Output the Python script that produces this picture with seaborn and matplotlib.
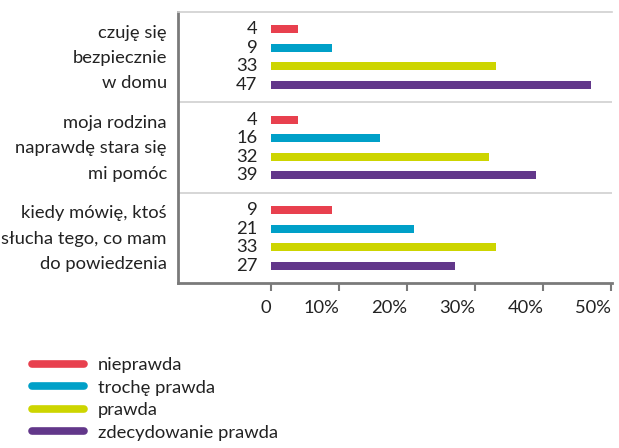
import matplotlib
matplotlib.use("Agg")
import matplotlib.pyplot as plt
from matplotlib.lines import Line2D
import seaborn as sns
import pandas as pd

# Survey statements (one group of bars each)
statements = [
    "czuję się\nbezpiecznie\nw domu",
    "moja rodzina\nnaprawdę stara się\nmi pomóc",
    "kiedy mówię, ktoś\nsłucha tego, co mam\ndo powiedzenia",
]
answers = ["nieprawda", "trochę prawda", "prawda", "zdecydowanie prawda"]

# Percent of respondents per answer, listed per statement
nieprawda = [4, 4, 9]
troche_prawda = [9, 16, 21]
prawda = [33, 32, 33]
zdecydowanie_prawda = [47, 39, 27]

xticks = [0, 10, 20, 30, 40, 50]
xtick_labels = ["0", "10%", "20%", "30%", "40%", "50%"]

palette = ["#E8404E", "#00A0C8", "#CDD500", "#62378A"]

rows = []
for ans, vals in zip(answers, [nieprawda, troche_prawda, prawda, zdecydowanie_prawda]):
    for st, v in zip(statements, vals):
        rows.append({"statement": st, "answer": ans, "value": v})
df = pd.DataFrame(rows)

sns.set_style("white")
plt.rcParams["font.family"] = ["Lato", "DejaVu Sans"]
text_color = "#222222"
axis_color = "#7a7a7a"
grid_color = "#d0d0d0"
fs = 13.2

fig = plt.figure(figsize=(6.19, 4.48), dpi=100)
ax = fig.add_axes([178 / 619, 1 - 283 / 448, (612 - 178) / 619, (283 - 12) / 448])

sns.barplot(
    data=df, y="statement", x="value", hue="answer",
    order=statements, hue_order=answers, palette=palette,
    orient="h", width=0.82, saturation=1, legend=False, ax=ax,
)

# Thin the bars around their centres and label each with its value
bar_h = 0.09
for container in ax.containers:
    for patch in container:
        cy = patch.get_y() + patch.get_height() / 2
        patch.set_height(bar_h)
        patch.set_y(cy - bar_h / 2)
        patch.set_edgecolor("none")
        ax.annotate(
            f"{patch.get_width():g}", xy=(0, cy), xytext=(-10, 0),
            textcoords="offset points", ha="right", va="center",
            fontsize=fs, color=text_color,
        )

ax.set_xlim(-13.7, 50.1)
ax.set_ylim(2.5, -0.5)
ax.set_xlabel("")
ax.set_ylabel("")

ax.set_xticks(xticks)
ax.set_xticklabels(xtick_labels, fontsize=fs, color=text_color, ha="right")
ax.tick_params(axis="x", bottom=True, length=6, width=1.5, color=axis_color,
               direction="out", pad=6)

# Statement labels to the left of the axis, centred on each group
ax.set_yticklabels([])
ax.tick_params(axis="y", left=False, length=0)
for i, st in enumerate(statements):
    ax.annotate(
        st, xy=(0, i), xycoords=("axes fraction", "data"),
        xytext=(-8, -0.5), textcoords="offset points",
        ha="right", va="center", multialignment="right",
        fontsize=fs, color=text_color, linespacing=1.72,
    )

for sep in [0.5, 1.5]:
    ax.axhline(sep, color=grid_color, lw=1.2, zorder=0)

ax.spines["top"].set_visible(True)
ax.spines["top"].set_color(grid_color)
ax.spines["top"].set_linewidth(1.2)
ax.spines["right"].set_visible(False)
for side in ["left", "bottom"]:
    ax.spines[side].set_color(axis_color)
    ax.spines[side].set_linewidth(2)

handles = [
    Line2D([0], [0], color=c, lw=5.5, solid_capstyle="round") for c in palette
]
fig.legend(
    handles, answers, loc="upper left", bbox_to_anchor=(32 / 619, 1 - 357 / 448),
    frameon=False, fontsize=fs, handlelength=2.85, handletextpad=0.76,
    labelspacing=0.36, labelcolor=text_color, borderpad=0, borderaxespad=0,
)

fig.savefig("out.png", dpi=100)
